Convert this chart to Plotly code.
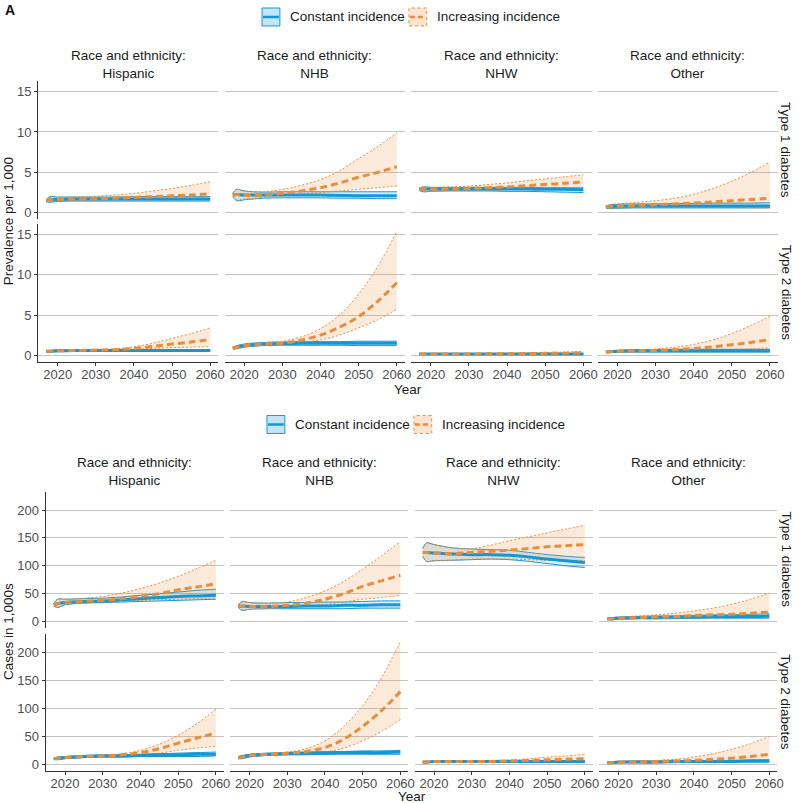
import plotly.graph_objects as go

W, H = 800, 803
FONT = "Liberation Sans, Arial, sans-serif"

years = [2017, 2018, 2020, 2025, 2030, 2035, 2040, 2045, 2050, 2055, 2060]
races = ["Hispanic", "NHB", "NHW", "Other"]
diabetes_types = ["Type 1 diabetes", "Type 2 diabetes"]
scenarios = ["Constant incidence", "Increasing incidence"]
year_ticks = [2020, 2030, 2040, 2050, 2060]
prev_ticks = [0, 5, 10, 15]
cases_ticks = [0, 50, 100, 150, 200]

# ---- A: prevalence per 1,000, type 1 diabetes
p1_his_c = [1.5, 1.6, 1.65, 1.7, 1.7, 1.7, 1.7, 1.7, 1.7, 1.7, 1.7]
p1_his_c_lo = [1.35, 1.3, 1.4, 1.45, 1.45, 1.45, 1.45, 1.45, 1.45, 1.45, 1.45]
p1_his_c_hi = [1.65, 2.0, 1.95, 1.95, 1.95, 1.95, 2.0, 2.0, 2.0, 2.0, 2.0]
p1_his_i = [1.5, 1.6, 1.65, 1.7, 1.75, 1.8, 1.9, 2.0, 2.1, 2.2, 2.35]
p1_his_i_lo = [1.4, 1.4, 1.5, 1.55, 1.55, 1.6, 1.6, 1.6, 1.6, 1.65, 1.7]
p1_his_i_hi = [1.6, 1.9, 1.9, 1.95, 2.05, 2.2, 2.4, 2.7, 3.0, 3.4, 3.85]

p1_nhb_c = [2.2, 2.25, 2.2, 2.2, 2.2, 2.2, 2.2, 2.15, 2.1, 2.1, 2.1]
p1_nhb_c_lo = [2.0, 1.5, 1.6, 1.8, 1.85, 1.85, 1.85, 1.8, 1.8, 1.75, 1.75]
p1_nhb_c_hi = [2.4, 2.9, 2.7, 2.55, 2.6, 2.6, 2.6, 2.6, 2.6, 2.6, 2.6]
p1_nhb_i = [2.2, 2.25, 2.2, 2.2, 2.4, 2.7, 3.1, 3.7, 4.4, 5.0, 5.7]
p1_nhb_i_lo = [2.0, 1.6, 1.7, 1.9, 2.1, 2.3, 2.5, 2.7, 2.9, 3.1, 3.3]
p1_nhb_i_hi = [2.4, 2.9, 2.7, 2.6, 2.9, 3.4, 4.1, 5.2, 6.7, 8.2, 9.9]

p1_nhw_c = [2.9, 2.95, 2.95, 2.95, 2.95, 2.95, 2.95, 2.95, 2.9, 2.9, 2.85]
p1_nhw_c_lo = [2.75, 2.6, 2.65, 2.7, 2.7, 2.7, 2.65, 2.65, 2.6, 2.55, 2.5]
p1_nhw_c_hi = [3.05, 3.2, 3.15, 3.15, 3.15, 3.15, 3.15, 3.15, 3.1, 3.1, 3.1]
p1_nhw_i = [2.9, 2.95, 2.95, 2.95, 3.0, 3.1, 3.2, 3.35, 3.5, 3.65, 3.8]
p1_nhw_i_lo = [2.75, 2.65, 2.7, 2.75, 2.8, 2.85, 2.9, 2.95, 3.0, 3.05, 3.1]
p1_nhw_i_hi = [3.05, 3.2, 3.15, 3.2, 3.3, 3.5, 3.7, 3.95, 4.2, 4.45, 4.7]

p1_oth_c = [0.7, 0.75, 0.8, 0.85, 0.85, 0.85, 0.85, 0.85, 0.85, 0.85, 0.85]
p1_oth_c_lo = [0.6, 0.5, 0.55, 0.6, 0.6, 0.6, 0.6, 0.6, 0.6, 0.6, 0.6]
p1_oth_c_hi = [0.8, 1.0, 1.05, 1.1, 1.1, 1.15, 1.15, 1.2, 1.2, 1.2, 1.25]
p1_oth_i = [0.7, 0.75, 0.8, 0.9, 1.0, 1.1, 1.2, 1.35, 1.5, 1.65, 1.8]
p1_oth_i_lo = [0.6, 0.55, 0.6, 0.65, 0.65, 0.65, 0.65, 0.65, 0.65, 0.6, 0.6]
p1_oth_i_hi = [0.8, 1.0, 1.1, 1.3, 1.5, 1.8, 2.3, 3.0, 3.9, 5.0, 6.3]

# ---- A: prevalence per 1,000, type 2 diabetes
p2_his_c = [0.5, 0.5, 0.55, 0.6, 0.6, 0.6, 0.6, 0.6, 0.6, 0.6, 0.6]
p2_his_c_lo = [0.45, 0.4, 0.45, 0.5, 0.5, 0.5, 0.5, 0.5, 0.5, 0.5, 0.5]
p2_his_c_hi = [0.55, 0.6, 0.65, 0.7, 0.7, 0.7, 0.7, 0.7, 0.7, 0.7, 0.7]
p2_his_i = [0.5, 0.5, 0.55, 0.6, 0.65, 0.7, 0.85, 1.1, 1.4, 1.65, 1.95]
p2_his_i_lo = [0.45, 0.45, 0.5, 0.55, 0.6, 0.65, 0.75, 0.85, 0.95, 1.0, 1.1]
p2_his_i_hi = [0.55, 0.6, 0.6, 0.65, 0.7, 0.8, 1.05, 1.5, 2.1, 2.7, 3.4]

p2_nhb_c = [0.9, 1.0, 1.2, 1.4, 1.45, 1.5, 1.5, 1.5, 1.5, 1.5, 1.5]
p2_nhb_c_lo = [0.8, 0.8, 1.0, 1.2, 1.25, 1.25, 1.25, 1.25, 1.2, 1.2, 1.2]
p2_nhb_c_hi = [1.0, 1.2, 1.4, 1.6, 1.65, 1.7, 1.7, 1.7, 1.75, 1.75, 1.75]
p2_nhb_i = [0.9, 1.0, 1.2, 1.4, 1.5, 1.9, 2.5, 3.5, 4.8, 6.7, 9.0]
p2_nhb_i_lo = [0.8, 0.85, 1.05, 1.25, 1.35, 1.6, 1.9, 2.5, 3.4, 4.4, 5.7]
p2_nhb_i_hi = [1.0, 1.15, 1.35, 1.55, 1.75, 2.3, 3.3, 5.0, 7.6, 11.0, 15.4]

p2_nhw_c = [0.15, 0.15, 0.15, 0.16, 0.16, 0.16, 0.16, 0.16, 0.16, 0.16, 0.16]
p2_nhw_c_lo = [0.12, 0.1, 0.1, 0.11, 0.11, 0.11, 0.11, 0.11, 0.11, 0.11, 0.11]
p2_nhw_c_hi = [0.18, 0.2, 0.2, 0.21, 0.21, 0.21, 0.21, 0.21, 0.21, 0.21, 0.21]
p2_nhw_i = [0.15, 0.15, 0.15, 0.16, 0.17, 0.18, 0.19, 0.21, 0.24, 0.27, 0.3]
p2_nhw_i_lo = [0.14, 0.13, 0.13, 0.14, 0.14, 0.15, 0.15, 0.16, 0.17, 0.18, 0.2]
p2_nhw_i_hi = [0.16, 0.17, 0.18, 0.19, 0.2, 0.22, 0.25, 0.3, 0.35, 0.4, 0.5]

p2_oth_c = [0.4, 0.45, 0.5, 0.55, 0.55, 0.55, 0.55, 0.55, 0.55, 0.55, 0.55]
p2_oth_c_lo = [0.35, 0.35, 0.4, 0.4, 0.4, 0.4, 0.4, 0.4, 0.4, 0.4, 0.4]
p2_oth_c_hi = [0.45, 0.55, 0.6, 0.7, 0.7, 0.75, 0.75, 0.75, 0.75, 0.75, 0.75]
p2_oth_i = [0.4, 0.45, 0.5, 0.55, 0.6, 0.7, 0.85, 1.05, 1.3, 1.6, 1.95]
p2_oth_i_lo = [0.35, 0.35, 0.4, 0.45, 0.5, 0.55, 0.6, 0.65, 0.7, 0.8, 0.9]
p2_oth_i_hi = [0.45, 0.55, 0.6, 0.65, 0.8, 1.0, 1.35, 1.9, 2.7, 3.7, 4.85]

# ---- B: cases in 1,000s, type 1 diabetes
c1_his_c = [30, 32, 34, 36, 37, 39, 41, 43, 45, 46, 47]
c1_his_c_lo = [28, 25, 30, 33, 34, 35, 36, 37, 38, 39, 40]
c1_his_c_hi = [32, 40, 40, 41, 42, 44, 47, 50, 53, 56, 58]
c1_his_i = [30, 32, 34, 36, 38, 41, 45, 50, 57, 62, 68]
c1_his_i_lo = [28, 26, 31, 33, 35, 36, 38, 39, 40, 41, 42]
c1_his_i_hi = [32, 40, 40, 42, 45, 51, 59, 69, 81, 95, 110]

c1_nhb_c = [27, 28, 27, 27, 27, 28, 28, 29, 29, 30, 30]
c1_nhb_c_lo = [25, 20, 22, 23, 23, 23, 23, 23, 24, 24, 24]
c1_nhb_c_hi = [29, 36, 34, 33, 34, 34, 35, 35, 36, 37, 37]
c1_nhb_i = [27, 28, 27, 27, 29, 33, 40, 50, 63, 73, 83]
c1_nhb_i_lo = [25, 21, 22, 23, 26, 28, 31, 35, 40, 43, 47]
c1_nhb_i_hi = [29, 35, 34, 33, 35, 43, 55, 72, 94, 118, 143]

c1_nhw_c = [124, 124, 123, 121, 120, 120, 119, 116, 112, 109, 106]
c1_nhw_c_lo = [117, 108, 109, 110, 111, 112, 111, 108, 104, 100, 97]
c1_nhw_c_hi = [131, 141, 138, 132, 130, 129, 128, 124, 120, 117, 115]
c1_nhw_i = [124, 124, 123, 122, 124, 126, 128, 131, 134, 136, 138]
c1_nhw_i_lo = [117, 108, 109, 110, 112, 112, 112, 111, 110, 109, 109]
c1_nhw_i_hi = [131, 141, 138, 132, 131, 137, 145, 152, 159, 166, 173]

c1_oth_c = [5, 5, 6, 7, 7, 8, 8, 9, 9, 9, 10]
c1_oth_c_lo = [4, 3, 4, 5, 5, 5, 6, 6, 6, 6, 6]
c1_oth_c_hi = [6, 7, 8, 9, 10, 10, 11, 12, 12, 13, 14]
c1_oth_i = [5, 5, 6, 7, 8, 9, 11, 12, 13, 15, 17]
c1_oth_i_lo = [4, 3, 4, 5, 6, 6, 7, 7, 7, 8, 8]
c1_oth_i_hi = [6, 7, 8, 10, 12, 15, 19, 24, 31, 40, 51]

# ---- B: cases in 1,000s, type 2 diabetes
c2_his_c = [10, 11, 12, 14, 15, 15, 16, 17, 17, 18, 18]
c2_his_c_lo = [9, 8, 10, 12, 13, 13, 14, 14, 14, 14, 15]
c2_his_c_hi = [11, 13, 14, 16, 17, 17, 18, 19, 20, 21, 22]
c2_his_i = [10, 11, 12, 14, 15, 17, 21, 28, 38, 47, 56]
c2_his_i_lo = [9, 9, 10, 13, 14, 15, 17, 20, 25, 29, 32]
c2_his_i_hi = [11, 13, 14, 15, 16, 19, 25, 36, 52, 73, 99]

c2_nhb_c = [12, 13, 16, 18, 19, 20, 20, 21, 21, 21, 22]
c2_nhb_c_lo = [10, 10, 13, 16, 17, 17, 18, 18, 18, 18, 18]
c2_nhb_c_hi = [14, 16, 18, 20, 21, 22, 23, 23, 24, 24, 25]
c2_nhb_i = [12, 13, 16, 18, 20, 23, 30, 45, 68, 96, 130]
c2_nhb_i_lo = [10, 11, 14, 16, 18, 20, 22, 29, 42, 59, 80]
c2_nhb_i_hi = [14, 15, 17, 19, 22, 28, 42, 68, 105, 155, 220]

c2_nhw_c = [4, 4, 5, 5, 5, 5, 5, 5, 5, 5, 5]
c2_nhw_c_lo = [3, 3, 4, 4, 4, 4, 4, 4, 4, 4, 4]
c2_nhw_c_hi = [5, 5, 6, 6, 6, 6, 6, 6, 6, 6, 6]
c2_nhw_i = [4, 4, 5, 5, 5, 5, 6, 7, 8, 9, 10]
c2_nhw_i_lo = [3, 3, 4, 4, 4, 4, 5, 5, 5, 5, 5]
c2_nhw_i_hi = [5, 5, 6, 6, 6, 7, 8, 10, 13, 15, 18]

c2_oth_c = [3, 3, 4, 4, 4, 5, 5, 5, 5, 6, 6]
c2_oth_c_lo = [2, 2, 3, 3, 3, 3, 4, 4, 4, 4, 4]
c2_oth_c_hi = [4, 4, 5, 6, 6, 6, 7, 7, 7, 8, 8]
c2_oth_i = [3, 3, 4, 4, 5, 6, 7, 9, 11, 14, 18]
c2_oth_i_lo = [2, 2, 3, 3, 4, 4, 5, 6, 6, 7, 8]
c2_oth_i_hi = [4, 4, 5, 6, 7, 9, 13, 19, 27, 37, 50]

facets = {
    (0, 0): [(p1_his_c, p1_his_c_lo, p1_his_c_hi, p1_his_i, p1_his_i_lo, p1_his_i_hi),
             (p1_nhb_c, p1_nhb_c_lo, p1_nhb_c_hi, p1_nhb_i, p1_nhb_i_lo, p1_nhb_i_hi),
             (p1_nhw_c, p1_nhw_c_lo, p1_nhw_c_hi, p1_nhw_i, p1_nhw_i_lo, p1_nhw_i_hi),
             (p1_oth_c, p1_oth_c_lo, p1_oth_c_hi, p1_oth_i, p1_oth_i_lo, p1_oth_i_hi)],
    (0, 1): [(p2_his_c, p2_his_c_lo, p2_his_c_hi, p2_his_i, p2_his_i_lo, p2_his_i_hi),
             (p2_nhb_c, p2_nhb_c_lo, p2_nhb_c_hi, p2_nhb_i, p2_nhb_i_lo, p2_nhb_i_hi),
             (p2_nhw_c, p2_nhw_c_lo, p2_nhw_c_hi, p2_nhw_i, p2_nhw_i_lo, p2_nhw_i_hi),
             (p2_oth_c, p2_oth_c_lo, p2_oth_c_hi, p2_oth_i, p2_oth_i_lo, p2_oth_i_hi)],
    (1, 0): [(c1_his_c, c1_his_c_lo, c1_his_c_hi, c1_his_i, c1_his_i_lo, c1_his_i_hi),
             (c1_nhb_c, c1_nhb_c_lo, c1_nhb_c_hi, c1_nhb_i, c1_nhb_i_lo, c1_nhb_i_hi),
             (c1_nhw_c, c1_nhw_c_lo, c1_nhw_c_hi, c1_nhw_i, c1_nhw_i_lo, c1_nhw_i_hi),
             (c1_oth_c, c1_oth_c_lo, c1_oth_c_hi, c1_oth_i, c1_oth_i_lo, c1_oth_i_hi)],
    (1, 1): [(c2_his_c, c2_his_c_lo, c2_his_c_hi, c2_his_i, c2_his_i_lo, c2_his_i_hi),
             (c2_nhb_c, c2_nhb_c_lo, c2_nhb_c_hi, c2_nhb_i, c2_nhb_i_lo, c2_nhb_i_hi),
             (c2_nhw_c, c2_nhw_c_lo, c2_nhw_c_hi, c2_nhw_i, c2_nhw_i_lo, c2_nhw_i_hi),
             (c2_oth_c, c2_oth_c_lo, c2_oth_c_hi, c2_oth_i, c2_oth_i_lo, c2_oth_i_hi)],
}

BLUE = "#1498D5"
BLUE_FILL = "rgba(20,152,213,0.16)"
ORANGE = "#E88D3A"
ORANGE_FILL = "rgba(236,146,70,0.2)"
GRID = "#c4c4c4"
AXIS = "#333333"


def fx(px):
    return px / W


def fy(py):
    return 1 - py / H


def columns(left, right, gap=6.2):
    w = (right - left - 3 * gap) / 4
    return [(left + i * (w + gap), left + i * (w + gap) + w) for i in range(4)]


# pixel layout of the two sub-figures
panels = [
    dict(cols=columns(38.3, 784.0), rows=[(81.4, 219.3), (224.4, 362.0)],
         yrange=[-0.775, 16.275], yticks=prev_ticks, ytitle="Prevalence per 1,000",
         legend_y=17, legend_x=264, strip_y=64.5, year_y=389.5, ytitle_x=8),
    dict(cols=columns(46.0, 783.3), rows=[(492.2, 628.5), (634.8, 771.5)],
         yrange=[-11.1, 233.1], yticks=cases_ticks, ytitle="Cases in 1,000s",
         legend_y=425, legend_x=269, strip_y=472.5, year_y=797, ytitle_x=8),
]
xrange = [2014.85, 2062.15]

fig = go.Figure()
layout = {}
annotations = []
shapes = []
tick_font = dict(family=FONT, size=13, color="#4d4d4d")
text_font = dict(family=FONT, size=13.5, color="#1a1a1a")

k = 0
for p, pan in enumerate(panels):
    for r, (y0, y1) in enumerate(pan["rows"]):
        for c, (x0, x1) in enumerate(pan["cols"]):
            k += 1
            xa, ya = ("x", "y") if k == 1 else (f"x{k}", f"y{k}")
            bottom, left = r == 1, c == 0
            layout["xaxis" if k == 1 else f"xaxis{k}"] = dict(
                domain=[fx(x0), fx(x1)], anchor=ya, range=xrange,
                showgrid=False, zeroline=False, tickvals=year_ticks,
                showticklabels=bottom, showline=bottom, linecolor=AXIS, linewidth=1,
                ticks="outside" if bottom else "", ticklen=3, tickcolor=AXIS,
                tickfont=tick_font, ticklabelstandoff=-2,
            )
            layout["yaxis" if k == 1 else f"yaxis{k}"] = dict(
                domain=[fy(y1), fy(y0)], anchor=xa, range=pan["yrange"],
                showgrid=True, gridcolor=GRID, gridwidth=1, zeroline=False,
                tickvals=pan["yticks"], showticklabels=left, showline=left,
                linecolor=AXIS, linewidth=1, ticks="outside" if left else "",
                ticklen=3, tickcolor=AXIS, tickfont=tick_font,
            )
            cm, clo, chi, im, ilo, ihi = facets[(p, r)][c]
            for lo, hi, col, fill, dash in [(clo, chi, BLUE, BLUE_FILL, "solid"),
                                            (ilo, ihi, ORANGE, ORANGE_FILL, "2px,2px")]:
                fig.add_trace(go.Scatter(
                    x=years, y=lo, xaxis=xa, yaxis=ya, mode="lines",
                    line=dict(color=col, width=1, dash=dash, shape="spline"),
                    showlegend=False, hoverinfo="skip"))
                fig.add_trace(go.Scatter(
                    x=years, y=hi, xaxis=xa, yaxis=ya, mode="lines", fill="tonexty",
                    fillcolor=fill,
                    line=dict(color=col, width=1, dash=dash, shape="spline"),
                    showlegend=False, hoverinfo="skip"))
            fig.add_trace(go.Scatter(
                x=years, y=cm, xaxis=xa, yaxis=ya, mode="lines", name=scenarios[0],
                line=dict(color=BLUE, width=3, shape="spline"), showlegend=False))
            fig.add_trace(go.Scatter(
                x=years, y=im, xaxis=xa, yaxis=ya, mode="lines", name=scenarios[1],
                line=dict(color=ORANGE, width=3, dash="7px,4px", shape="spline"),
                showlegend=False))

            if r == 0:
                annotations.append(dict(
                    x=fx((x0 + x1) / 2), y=fy(pan["strip_y"]), xref="paper", yref="paper",
                    text=f"Race and ethnicity:<br>{races[c]}", showarrow=False,
                    font=text_font, xanchor="center", yanchor="middle"))
        # row strip on the right
        annotations.append(dict(
            x=fx(792), y=fy((y0 + y1) / 2), xref="paper", yref="paper",
            text=diabetes_types[r], textangle=90, showarrow=False, font=text_font,
            xanchor="center", yanchor="middle"))

    left_px = pan["cols"][0][0]
    right_px = pan["cols"][-1][1]
    annotations.append(dict(
        x=fx((left_px + right_px) / 2), y=fy(pan["year_y"]), xref="paper", yref="paper",
        text="Year", showarrow=False, font=text_font, xanchor="center", yanchor="middle"))
    annotations.append(dict(
        x=fx(pan["ytitle_x"]), y=fy((pan["rows"][0][0] + pan["rows"][1][1]) / 2),
        xref="paper", yref="paper", text=pan["ytitle"], textangle=-90,
        showarrow=False, font=text_font, xanchor="center", yanchor="middle"))

    # legend keys drawn by hand (boxed ribbon + line)
    ly, lx = pan["legend_y"], pan["legend_x"]
    keys = [(lx, BLUE, "rgba(20,152,213,0.25)", "solid", scenarios[0]),
            (lx + 148, ORANGE, "rgba(236,146,70,0.25)", "dot", scenarios[1])]
    for kx, col, fill, dash, label in keys:
        shapes.append(dict(type="rect", xref="paper", yref="paper",
                           x0=fx(kx), x1=fx(kx + 18), y0=fy(ly + 9), y1=fy(ly - 9),
                           fillcolor=fill, line=dict(color=col, width=1, dash=dash)))
        shapes.append(dict(type="line", xref="paper", yref="paper",
                           x0=fx(kx + 1), x1=fx(kx + 17), y0=fy(ly), y1=fy(ly),
                           line=dict(color=col, width=2.5,
                                     dash="solid" if dash == "solid" else "5px,3px")))
        annotations.append(dict(x=fx(kx + 26), y=fy(ly), xref="paper", yref="paper",
                                text=label, showarrow=False, font=text_font,
                                xanchor="left", yanchor="middle"))

annotations.append(dict(x=fx(3), y=fy(10), xref="paper", yref="paper", text="<b>A</b>",
                        showarrow=False, font=dict(family=FONT, size=14, color="#111"),
                        xanchor="left", yanchor="middle"))

fig.update_layout(
    width=W, height=H,
    margin=dict(l=0, r=0, t=0, b=0),
    paper_bgcolor="white", plot_bgcolor="white",
    font=dict(family=FONT, size=13, color="#1a1a1a"),
    showlegend=False,
    annotations=annotations, shapes=shapes,
    **layout,
)

# remove the page's default body margin so figure pixels line up with the window
fig.write_html("out.html", config={"displayModeBar": False},
               post_script="document.body.style.margin='0px';"
                           "document.body.style.overflow='hidden';")
